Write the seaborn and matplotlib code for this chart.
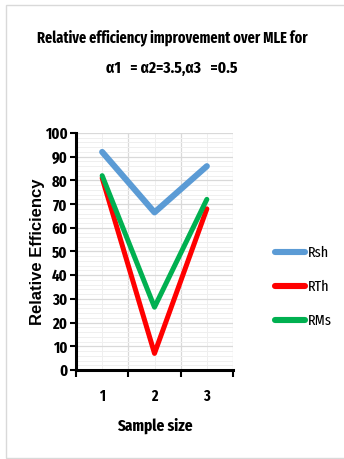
import matplotlib
matplotlib.use("Agg")
import matplotlib.pyplot as plt
from matplotlib.patches import Rectangle
from matplotlib.ticker import MultipleLocator, FixedLocator, NullFormatter
import seaborn as sns
import pandas as pd

sample_size = [1, 2, 3]
rsh = [92, 66.5, 86]
rth = [81, 7, 68]
rms = [82, 26.5, 72]
series_names = ["Rsh", "RTh", "RMs"]
series_colors = ["#5B9BD5", "#FF0000", "#00B050"]
y_ticks = list(range(0, 101, 10))

df = pd.DataFrame({
    "Sample size": sample_size * 3,
    "Relative Efficiency": rsh + rth + rms,
    "series": [n for n in series_names for _ in sample_size],
})

sns.set_theme(style="white")
plt.rcParams["font.family"] = ["Fira Sans Extra Condensed", "Fira Sans Condensed", "DejaVu Sans"]
plt.rcParams["text.color"] = "black"
plt.rcParams["axes.labelcolor"] = "black"
plt.rcParams["xtick.color"] = "black"
plt.rcParams["ytick.color"] = "black"

fig = plt.figure(figsize=(3.44, 4.59), dpi=100)
ax = fig.add_axes([76 / 344, 1 - 370 / 459, (233 - 76) / 344, (370 - 133) / 459])

# light frame around the whole chart area
fig.patches.append(Rectangle((6 / 344, 1 / 459), 1.2, 453 / 459, transform=fig.transFigure,
                             fill=False, edgecolor="#d9d9d9", linewidth=1.0))

sns.lineplot(data=df, x="Sample size", y="Relative Efficiency", hue="series",
             palette=dict(zip(series_names, series_colors)), ax=ax, legend=False,
             linewidth=3.6, solid_capstyle="round")
ax.lines[0].set_linewidth(4.4)

ax.set_xlim(0.5, 3.5)
ax.set_ylim(0, 100)

ax.yaxis.set_major_locator(FixedLocator(y_ticks))
ax.yaxis.set_minor_locator(MultipleLocator(2))
ax.xaxis.set_major_locator(FixedLocator([0.5, 1.5, 2.5, 3.5]))
ax.xaxis.set_major_formatter(NullFormatter())
ax.xaxis.set_minor_locator(FixedLocator(sample_size))
ax.set_xticklabels([str(s) for s in sample_size], minor=True)

ax.grid(which="major", color="#d9d9d9", linewidth=0.9)
ax.grid(which="minor", color="#efefef", linewidth=0.7)
ax.set_axisbelow(True)

for side in ["top", "right"]:
    ax.spines[side].set_visible(False)
for side in ["left", "bottom"]:
    ax.spines[side].set_color("black")
    ax.spines[side].set_linewidth(2.2)

ax.tick_params(axis="y", which="major", direction="out", length=4, width=1.5,
               color="black", left=True, labelsize=11.5, pad=2)
ax.tick_params(axis="y", which="minor", length=0)
ax.tick_params(axis="x", which="major", direction="out", length=5, width=1.5,
               color="black", bottom=True)
ax.tick_params(axis="x", which="minor", length=0, labelsize=11, pad=13)
for lbl in ax.get_yticklabels() + ax.get_xticklabels(minor=True):
    lbl.set_fontweight("bold")

ax.set_xlabel("Sample size", fontsize=12, fontweight="bold", labelpad=10)
ax.set_ylabel("Relative Efficiency", fontsize=12, fontweight="bold",
              family=["Liberation Sans", "DejaVu Sans"])
ax.yaxis.set_label_coords(-0.195, 0.5)

fig.text(172 / 344, 1 - 38 / 459, "Relative efficiency improvement over MLE for",
         ha="center", va="center", fontsize=11.2, fontweight="bold")
fig.text(172 / 344, 1 - 68 / 459, "\u03b11   = \u03b12=3.5,\u03b13   =0.5",
         ha="center", va="center", fontsize=12, fontweight="bold")

handles = ax.lines[:3]
leg = fig.legend(handles, series_names, loc="upper left",
                 bbox_to_anchor=(261 / 344, 1 - 232 / 459), frameon=False,
                 fontsize=11, handlelength=2.0, handletextpad=0.2, labelspacing=1.3)
for h in leg.legend_handles:
    h.set_linewidth(4.4)
    h.set_solid_capstyle("round")

fig.savefig("out.png", dpi=100)
